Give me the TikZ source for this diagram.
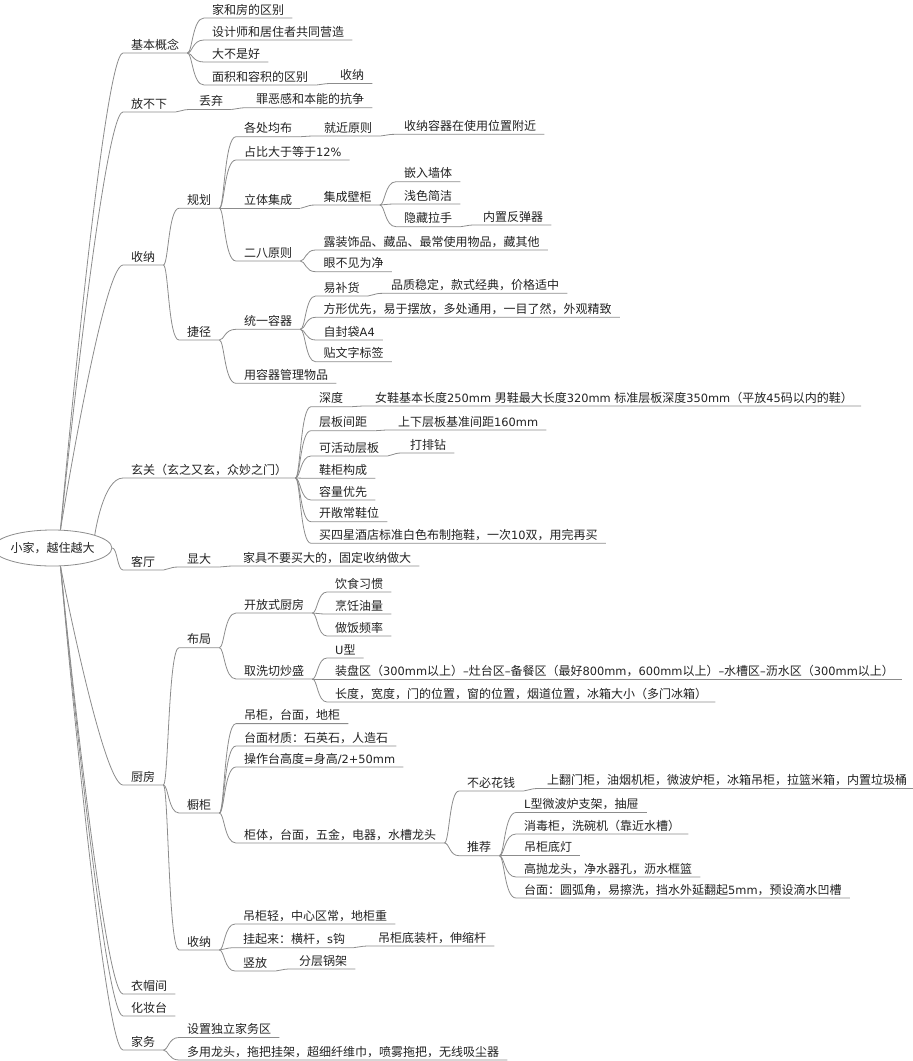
\documentclass[tikz,border=0pt]{standalone}
\usepackage{fontspec}
\newfontfamily\cjk{Noto Sans CJK SC}
\newfontfamily\latn{DejaVu Sans}[Scale=0.95]
\usetikzlibrary{shapes.geometric}
\usetikzlibrary{calc}
\definecolor{linegray}{HTML}{8C8C8C}
\definecolor{inkgray}{HTML}{222222}
\tikzset{%
  topic/.style = {ellipse,draw=linegray,fill=white,line width=0.8pt,
        minimum width=103pt,minimum height=36pt,inner sep=0pt},
  twig/.style = {anchor=south west,inner xsep=8pt,inner ysep=2.8pt,
        text height=9pt,text depth=1pt},
  link/.style = {draw=linegray,line width=0.8pt},
  curvy/.style = {to path={.. controls ([xshift=5pt]\tikztostart)
        and ($(\tikztostart |- \tikztotarget)+(5pt,0)$) .. (\tikztotarget)}},
  trunk/.style = {to path={.. controls (\tikztostart)
        and ([xshift=-20pt]\tikztotarget) .. (\tikztotarget)}}
}

\begin{document}
\begin{tikzpicture}[x=1pt,y=-1pt,font=\cjk\fontsize{12pt}{14pt}\selectfont,
        text=inkgray]
    \useasboundingbox (0,0) rectangle (913,1061);
    \node[topic] (home) at (52.5,548) {小家，越住越大};

    % first level
    \node[twig] (jbgn) at (123,53) {基本概念};
    \node[twig] (fbx) at (123,112) {放不下};
    \node[twig] (sn) at (123,265) {收纳};
    \node[twig] (xg) at (123,478) {玄关（玄之又玄，众妙之门）};
    \node[twig] (kt) at (123,570) {客厅};
    \node[twig] (cf) at (123,785) {厨房};
    \node[twig] (ymj) at (123,994) {衣帽间};
    \node[twig] (hzt) at (123,1016) {化妆台};
    \node[twig] (jw) at (123,1050) {家务};

    % 基本概念, 放不下
    \node[twig] (jf) at (204,18) {家和房的区别};
    \node[twig] (sjs) at (204,40) {设计师和居住者共同营造};
    \node[twig] (dbsh) at (204,62) {大不是好};
    \node[twig] (mj) at (204,85) {面积和容积的区别};
    \node[twig] (mjsn) at (332,83.5) {收纳};
    \node[twig] (qq) at (191,109.5) {丢弃};
    \node[twig] (zeg) at (248,107.7) {罪恶感和本能的抗争};

    % 收纳
    \node[twig] (gh) at (179,208.3) {规划};
    \node[twig] (jj) at (179,340) {捷径};
    \node[twig] (gcjb) at (236,136.7) {各处均布};
    \node[twig] (jjyz) at (316,136) {就近原则};
    \node[twig] (snrq) at (396,134.3) {收纳容器在使用位置附近};
    \node[twig] (zb) at (236,160) {占比大于等于{\latn 12\%}};
    \node[twig] (ltjc) at (236,208.3) {立体集成};
    \node[twig] (jcbg) at (315.5,205) {集成壁柜};
    \node[twig] (qrqt) at (396,181.7) {嵌入墙体};
    \node[twig] (qsjj) at (396,204) {浅色简洁};
    \node[twig] (ycls) at (396,226.7) {隐藏拉手};
    \node[twig] (nzftq) at (475,225) {内置反弹器};
    \node[twig] (ebyz) at (236,261) {二八原则};
    \node[twig] (lzsp) at (315.5,250) {露装饰品、藏品、最常使用物品，藏其他};
    \node[twig] (ybjw) at (315.5,271.7) {眼不见为净};
    \node[twig] (tyrq) at (236,329.3) {统一容器};
    \node[twig] (ybh) at (315.5,296) {易补货};
    \node[twig] (pzwd) at (383,293.3) {品质稳定，款式经典，价格适中};
    \node[twig] (fxyx) at (315.5,317.3) {方形优先，易于摆放，多处通用，一目了然，外观精致};
    \node[twig] (zfd) at (315.5,340) {自封袋{\latn A4}};
    \node[twig] (twz) at (315.5,361.7) {贴文字标签};
    \node[twig] (yrq) at (236,383.3) {用容器管理物品};

    % 玄关, 客厅
    \node[twig] (sd) at (311,406.7) {深度};
    \node[twig] (nx) at (367,406) {女鞋基本长度{\latn 250mm }男鞋最大长度{\latn 320mm }标准层板深度{\latn 350mm}（平放{\latn 45}码以内的鞋）};
    \node[twig] (cbjj) at (311,430.7) {层板间距};
    \node[twig] (sxcb) at (390,430) {上下层板基准间距{\latn 160mm}};
    \node[twig] (khd) at (311,456) {可活动层板};
    \node[twig] (dpz) at (402,453) {打排钻};
    \node[twig] (xggc) at (311,478.3) {鞋柜构成};
    \node[twig] (rlyx) at (311,500) {容量优先};
    \node[twig] (kcxw) at (311,521.7) {开敞常鞋位};
    \node[twig] (msx) at (311,543.3) {买四星酒店标准白色布制拖鞋，一次{\latn 10}双，用完再买};
    \node[twig] (xd) at (179,567) {显大};
    \node[twig] (jjbm) at (235,566) {家具不要买大的，固定收纳做大};

    % 厨房
    \node[twig] (bj) at (179,647.7) {布局};
    \node[twig] (kfs) at (236,613) {开放式厨房};
    \node[twig] (ysxg) at (327,592) {饮食习惯};
    \node[twig] (prly) at (327,614) {烹饪油量};
    \node[twig] (zfpl) at (327,636) {做饭频率};
    \node[twig] (qxq) at (236,679) {取洗切炒盛};
    \node[twig] (ux) at (327,658) {{\latn U}型};
    \node[twig] (zpq) at (327,679) {装盘区（{\latn 300mm}以上）{\latn –}灶台区{\latn –}备餐区（最好{\latn 800mm}，{\latn 600mm}以上）{\latn –}水槽区{\latn –}沥水区（{\latn 300mm}以上）};
    \node[twig] (cdkd) at (327,702) {长度，宽度，门的位置，窗的位置，烟道位置，冰箱大小（多门冰箱）};
    \node[twig] (cg) at (179,813) {橱柜};
    \node[twig] (dgtm) at (236,723.6) {吊柜，台面，地柜};
    \node[twig] (tmcz) at (236,746) {台面材质：石英石，人造石};
    \node[twig] (czt) at (236,767) {操作台高度{\latn =}身高{\latn /2+50mm}};
    \node[twig] (gt) at (236,843) {柜体，台面，五金，电器，水槽龙头};
    \node[twig] (bbhq) at (459,791) {不必花钱};
    \node[twig] (sfmg) at (539,788.5) {上翻门柜，油烟机柜，微波炉柜，冰箱吊柜，拉篮米箱，内置垃圾桶};
    \node[twig] (tj) at (459,855.7) {推荐};
    \node[twig] (lx) at (516,812.5) {{\latn L}型微波炉支架，抽屉};
    \node[twig] (xdg) at (516,834) {消毒柜，洗碗机（靠近水槽）};
    \node[twig] (dgdd) at (516,855.7) {吊柜底灯};
    \node[twig] (gplt) at (516,877) {高抛龙头，净水器孔，沥水框篮};
    \node[twig] (tmyh) at (516,898) {台面：圆弧角，易擦洗，挡水外延翻起{\latn 5mm}，预设滴水凹槽};
    \node[twig] (cfsn) at (179,950) {收纳};
    \node[twig] (dgq) at (235,924) {吊柜轻，中心区常，地柜重};
    \node[twig] (gql) at (235,947.7) {挂起来：横杆，{\latn s}钩};
    \node[twig] (dgdz) at (370,946) {吊柜底装杆，伸缩杆};
    \node[twig] (sf) at (235,971) {竖放};
    \node[twig] (fcgj) at (291,969) {分层锅架};

    % 家务
    \node[twig] (szdl) at (179,1037.5) {设置独立家务区};
    \node[twig] (dylt) at (179,1060) {多用龙头，拖把挂架，超细纤维巾，喷雾拖把，无线吸尘器};

    % connectors
    \foreach \c in {jbgn,fbx,sn}
        \draw[link] ([xshift=8pt]home.north) to[trunk] (\c.south west) -- (\c.south east);
    \draw[link] (home.north east) to[trunk] (xg.south west) -- (xg.south east);
    \draw[link] (home.east) to[curvy] (kt.south west) -- (kt.south east);
    \foreach \c in {cf,ymj,hzt,jw}
        \draw[link] ([xshift=8pt]home.south) to[trunk] (\c.south west) -- (\c.south east);

    \foreach \c in {jf,sjs,dbsh,mj}
        \draw[link] (jbgn.south east) to[curvy] (\c.south west) -- (\c.south east);
    \draw[link] (mj.south east) to[curvy] (mjsn.south west) -- (mjsn.south east);
    \draw[link] (fbx.south east) to[curvy] (qq.south west) -- (qq.south east);
    \draw[link] (qq.south east) to[curvy] (zeg.south west) -- (zeg.south east);

    \foreach \c in {gh,jj}
        \draw[link] (sn.south east) to[curvy] (\c.south west) -- (\c.south east);
    \foreach \c in {gcjb,zb,ltjc,ebyz}
        \draw[link] (gh.south east) to[curvy] (\c.south west) -- (\c.south east);
    \draw[link] (gcjb.south east) to[curvy] (jjyz.south west) -- (jjyz.south east);
    \draw[link] (jjyz.south east) to[curvy] (snrq.south west) -- (snrq.south east);
    \draw[link] (ltjc.south east) to[curvy] (jcbg.south west) -- (jcbg.south east);
    \foreach \c in {qrqt,qsjj,ycls}
        \draw[link] (jcbg.south east) to[curvy] (\c.south west) -- (\c.south east);
    \draw[link] (ycls.south east) to[curvy] (nzftq.south west) -- (nzftq.south east);
    \foreach \c in {lzsp,ybjw}
        \draw[link] (ebyz.south east) to[curvy] (\c.south west) -- (\c.south east);
    \foreach \c in {tyrq,yrq}
        \draw[link] (jj.south east) to[curvy] (\c.south west) -- (\c.south east);
    \foreach \c in {ybh,fxyx,zfd,twz}
        \draw[link] (tyrq.south east) to[curvy] (\c.south west) -- (\c.south east);
    \draw[link] (ybh.south east) to[curvy] (pzwd.south west) -- (pzwd.south east);

    \foreach \c in {sd,cbjj,khd,xggc,rlyx,kcxw,msx}
        \draw[link] (xg.south east) to[curvy] (\c.south west) -- (\c.south east);
    \draw[link] (sd.south east) to[curvy] (nx.south west) -- (nx.south east);
    \draw[link] (cbjj.south east) to[curvy] (sxcb.south west) -- (sxcb.south east);
    \draw[link] (khd.south east) to[curvy] (dpz.south west) -- (dpz.south east);
    \draw[link] (kt.south east) to[curvy] (xd.south west) -- (xd.south east);
    \draw[link] (xd.south east) to[curvy] (jjbm.south west) -- (jjbm.south east);

    \foreach \c in {bj,cg,cfsn}
        \draw[link] (cf.south east) to[curvy] (\c.south west) -- (\c.south east);
    \foreach \c in {kfs,qxq}
        \draw[link] (bj.south east) to[curvy] (\c.south west) -- (\c.south east);
    \foreach \c in {ysxg,prly,zfpl}
        \draw[link] (kfs.south east) to[curvy] (\c.south west) -- (\c.south east);
    \foreach \c in {ux,zpq,cdkd}
        \draw[link] (qxq.south east) to[curvy] (\c.south west) -- (\c.south east);
    \foreach \c in {dgtm,tmcz,czt,gt}
        \draw[link] (cg.south east) to[curvy] (\c.south west) -- (\c.south east);
    \foreach \c in {bbhq,tj}
        \draw[link] (gt.south east) to[curvy] (\c.south west) -- (\c.south east);
    \draw[link] (bbhq.south east) to[curvy] (sfmg.south west) -- (sfmg.south east);
    \foreach \c in {lx,xdg,dgdd,gplt,tmyh}
        \draw[link] (tj.south east) to[curvy] (\c.south west) -- (\c.south east);
    \foreach \c in {dgq,gql,sf}
        \draw[link] (cfsn.south east) to[curvy] (\c.south west) -- (\c.south east);
    \draw[link] (gql.south east) to[curvy] (dgdz.south west) -- (dgdz.south east);
    \draw[link] (sf.south east) to[curvy] (fcgj.south west) -- (fcgj.south east);

    \foreach \c in {szdl,dylt}
        \draw[link] (jw.south east) to[curvy] (\c.south west) -- (\c.south east);
\end{tikzpicture}
\end{document}
